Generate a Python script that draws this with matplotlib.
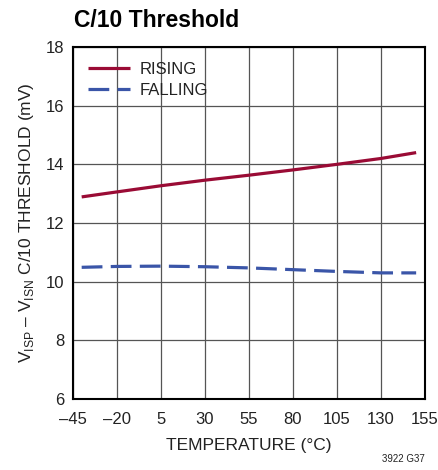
import matplotlib
matplotlib.use("Agg")
import matplotlib.pyplot as plt

plt.rcParams['font.family'] = ['Liberation Sans', 'DejaVu Sans']
plt.rcParams['mathtext.fontset'] = 'custom'
plt.rcParams['mathtext.rm'] = 'Liberation Sans'

# data
temp = [-40, -20, 5, 30, 55, 80, 105, 130, 150]
rising = [12.89, 13.06, 13.27, 13.46, 13.63, 13.81, 14.00, 14.20, 14.40]
falling = [10.49, 10.52, 10.53, 10.51, 10.47, 10.41, 10.35, 10.30, 10.30]
xticks = [-45, -20, 5, 30, 55, 80, 105, 130, 155]
yticks = [6, 8, 10, 12, 14, 16, 18]

fig = plt.figure(figsize=(4.39, 4.70), dpi=100)
ax = fig.add_axes([0.166, 0.151, 0.802, 0.749])

ax.plot(temp, rising, color="#9a0b35", lw=2.3, label="RISING", solid_capstyle="butt")
ax.plot(temp, falling, color="#3a55a8", lw=2.3, dashes=(6.5, 2.6), label="FALLING")

ax.set_xlim(-45, 155)
ax.set_ylim(6, 18)
ax.set_xticks(xticks)
ax.set_xticklabels([str(t).replace("-", "\u2013") for t in xticks])
ax.set_yticks(yticks)
ax.tick_params(length=0, labelsize=12, colors="#222222")
ax.tick_params(axis="x", pad=9)
ax.tick_params(axis="y", pad=6)
ax.grid(True, color="#555555", lw=0.9)
for s in ax.spines.values():
    s.set_linewidth(1.5)
    s.set_color("black")

ax.set_xlabel("TEMPERATURE (\u00b0C)", fontsize=12.5, color="#222222", labelpad=8)
ax.set_ylabel("V$_{\\mathregular{ISP}}$ \u2013 V$_{\\mathregular{ISN}}$ C/10 THRESHOLD (mV)",
              fontsize=12.5, color="#222222", labelpad=7)

leg = ax.legend(loc="upper left", frameon=False, fontsize=12, handlelength=2.5,
                handletextpad=0.6, labelspacing=0.35, borderaxespad=0.5)
for t in leg.get_texts():
    t.set_color("#222222")

fig.text(0.168, 0.943, "C/10 Threshold", fontsize=16.5, fontweight="bold", ha="left", va="baseline")
fig.text(0.968, 0.018, "3922 G37", fontsize=7, ha="right", va="baseline", color="#222222")

fig.savefig("out.png", dpi=100)
